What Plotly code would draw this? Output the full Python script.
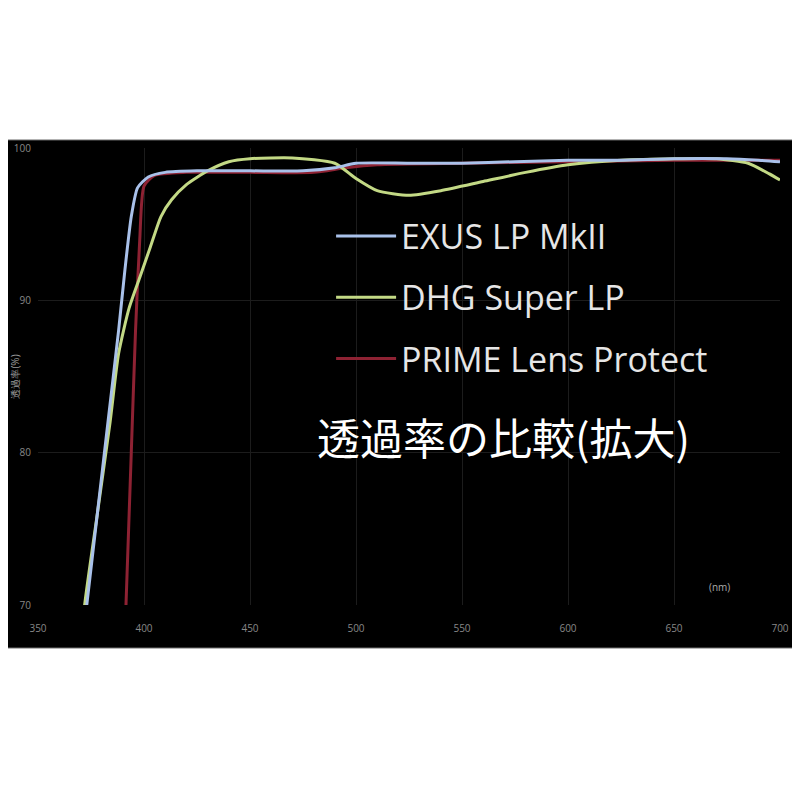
import plotly.graph_objects as go

# wavelength (nm) samples and transmittance (%) per filter
exus_nm = [368, 373, 378, 383, 388, 391, 394, 397, 402, 410, 425, 450, 475, 490, 500, 525, 550, 575, 600, 625, 650, 675, 690, 700]
exus_t = [64.0, 70.0, 76.0, 82.0, 88.0, 92.0, 95.5, 97.4, 98.1, 98.4, 98.5, 98.5, 98.5, 98.7, 99.0, 99.0, 99.0, 99.1, 99.2, 99.2, 99.3, 99.3, 99.2, 99.1]

dhg_nm = [368, 372, 378, 384, 388, 393, 398, 403, 408, 413, 420, 430, 440, 450, 470, 490, 500, 510, 525, 540, 560, 580, 600, 625, 650, 670, 685, 695, 700]
dhg_t = [64.0, 70.0, 76.0, 82.0, 86.5, 89.5, 91.5, 93.5, 95.5, 96.6, 97.6, 98.5, 99.1, 99.3, 99.35, 99.0, 98.0, 97.2, 96.9, 97.2, 97.8, 98.4, 98.9, 99.2, 99.3, 99.3, 99.0, 98.3, 97.9]

prime_nm = [390, 392, 394, 396, 398, 400, 405, 420, 450, 480, 495, 510, 550, 600, 650, 700]
prime_t = [64.0, 72.0, 80.0, 88.0, 94.0, 97.5, 98.2, 98.4, 98.4, 98.4, 98.7, 98.9, 99.0, 99.1, 99.2, 99.2]

series_names = ["EXUS LP MkII", "DHG Super LP", "PRIME Lens Protect"]
series_colors = ["#a9c1ea", "#c3d985", "#8e2233"]
series_z = [3, 2, 1]  # PRIME drawn underneath the others

x_ticks = [350, 400, 450, 500, 550, 600, 650, 700]
y_ticks = [70, 80, 90, 100]

chart_title = "透過率の比較(拡大)"
unit_label = "(nm)"
y_title = "透過率(%)"

fig = go.Figure()
all_x = [exus_nm, dhg_nm, prime_nm]
all_y = [exus_t, dhg_t, prime_t]
for i in range(3):
    fig.add_trace(go.Scatter(x=all_x[i], y=all_y[i], mode="lines", name=series_names[i],
                             legendgroup=series_names[i], zorder=series_z[i],
                             line=dict(color=series_colors[i], width=3, shape="spline", smoothing=0.6)))

fig.update_layout(
    width=800, height=800,
    paper_bgcolor="white", plot_bgcolor="black",
    margin=dict(l=30, r=28, t=140, b=203, autoexpand=False),
    showlegend=True,
    legend=dict(x=0.395, y=0.87, xanchor="left", yanchor="top", bgcolor="rgba(0,0,0,0)",
                traceorder="grouped",
                font=dict(color="#e6e6e6", size=34, family="Open Sans"),
                tracegroupgap=14, itemwidth=60),
    shapes=[dict(type="rect", xref="paper", yref="paper", x0=-0.1, x1=1.1, y0=-0.094, y1=1.0175,
                 fillcolor="black", line=dict(color="#666", width=1), layer="below")],
    annotations=[
        dict(text=chart_title, xref="paper", yref="paper", x=0.628, y=0.37, showarrow=False,
             xanchor="center", yanchor="middle",
             font=dict(color="white", size=43, family="Noto Sans CJK JP")),
        dict(text=unit_label, xref="paper", yref="paper", x=0.935, y=0.02, showarrow=False,
             font=dict(color="#aaa", size=10)),
    ],
)
fig.update_xaxes(range=[350, 700], tickvals=x_ticks, showgrid=True, gridcolor="#1c1c1c",
                 tickfont=dict(color="#888", size=10), zeroline=False, showline=False,
                 ticks="outside", ticklen=14, tickcolor="rgba(0,0,0,0)", automargin=False)
fig.update_yaxes(range=[70, 100], tickvals=y_ticks, showgrid=True, gridcolor="#1c1c1c",
                 tickfont=dict(color="#888", size=10), zeroline=False, showline=True, linecolor="#333",
                 ticks="outside", ticklen=4, tickcolor="rgba(0,0,0,0)", automargin=False,
                 title=dict(text=y_title, font=dict(color="#999", size=10), standoff=0))
fig.write_html("out.html")
